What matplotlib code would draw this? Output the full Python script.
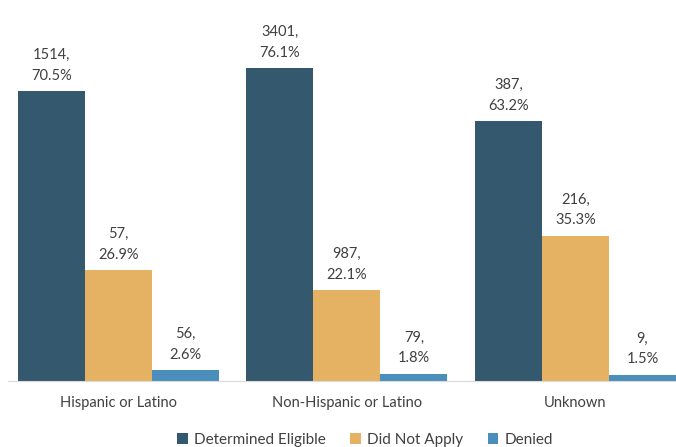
import numpy as np
import matplotlib
matplotlib.use("Agg")
import matplotlib.pyplot as plt

groups = ["Hispanic or Latino", "Non-Hispanic or Latino", "Unknown"]
series = ["Determined Eligible", "Did Not Apply", "Denied"]
counts = [
    [1514, 3401, 387],
    [57, 987, 216],
    [56, 79, 9],
]
percents = [
    [70.5, 76.1, 63.2],
    [26.9, 22.1, 35.3],
    [2.6, 1.8, 1.5],
]
COLORS = ["#34586E", "#E5B264", "#4A8FBB"]
TEXT = "#404040"

plt.rcParams["font.family"] = ["Lato", "DejaVu Sans"]

fig = plt.figure(figsize=(6.76, 4.47), dpi=100)
ax = fig.add_axes([8 / 676, (447 - 381) / 447, 668 / 676, 381 / 447])

x = np.arange(len(groups))
width = 0.293
for i, (name, color) in enumerate(zip(series, COLORS)):
    xs = x + (i - 1) * width
    ax.bar(xs, percents[i], width=width, color=color, label=name)
    for xi, c, p in zip(xs, counts[i], percents[i]):
        ax.annotate(f"{c},\n{p}%", (xi, p), xytext=(0, 6),
                    textcoords="offset points", ha="center", va="bottom",
                    fontsize=10.5, color=TEXT, linespacing=1.6)

ax.set_xlim(-0.483, 2.44)
ax.set_ylim(0, 92.6)
ax.set_yticks([])
ax.set_xticks(x)
ax.set_xticklabels(groups, fontsize=10.5, color=TEXT)
ax.tick_params(axis="x", length=0, pad=11)
for side in ["top", "left", "right"]:
    ax.spines[side].set_visible(False)
ax.spines["bottom"].set_color("#D9D9D9")

fig.legend(loc="lower center", bbox_to_anchor=(0.54, -0.03), ncol=3,
           frameon=False, fontsize=11, handlelength=0.7, handleheight=0.7,
           handletextpad=0.4, columnspacing=1.6, labelcolor=TEXT)

fig.savefig("out.png", dpi=100)
